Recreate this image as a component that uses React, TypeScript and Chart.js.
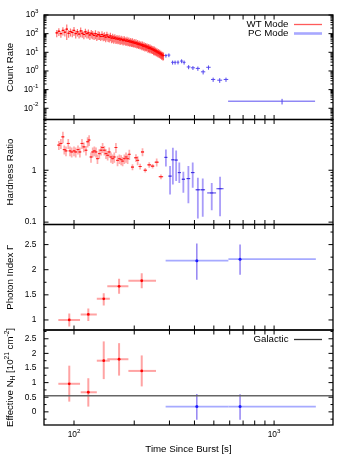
import React, { useEffect, useRef } from 'react';
import { Chart, registerables } from 'chart.js';
Chart.register(...registerables);

const FONT = '"Liberation Sans", Arial, Helvetica, sans-serif';
const TICK_FS = 8.4;
const SUP_FS = 6.2;
const TITLE_FS = 9.7;
const W = 350;
const H = 455;
const PLOT_LEFT = 44;
const PLOT_RIGHT = 333;

// ---------------- shared x axis ----------------
const timeMin = 70.8;
const timeMax = 1970;
const timeTicks = [100, 200, 300, 400, 500, 600, 700, 800, 900, 1000];
const timeLabelValues = [100, 1000];
const timeLabelExp = ['2', '3'];

// ---------------- panel 1: count rate ----------------
const wtTime = [82, 84, 86, 88, 90, 92, 94, 96, 98, 100, 102, 104, 106, 108, 110, 112, 114, 116, 118, 120, 122, 124, 126, 128, 130, 132, 134, 136, 138, 140, 142, 144, 146, 148, 150, 152, 154, 156, 158, 160, 162, 164, 166, 168, 170, 172, 174, 176, 178, 180, 182, 184, 186, 188, 190, 192, 194, 196, 198, 200, 202, 204, 206, 208, 210, 212, 214, 216, 218, 220, 222, 224, 226, 228, 230, 232, 234, 236, 238, 240, 242, 244, 246, 248, 250, 252, 254, 256, 258, 260, 262, 264, 266, 268, 270, 272, 274, 276, 278, 280];
const wtRate = [110, 135, 100, 150, 120, 175, 105, 130, 115, 150, 100, 125, 95, 140, 105, 90, 125, 100, 110, 85, 105, 95, 80, 100, 75, 90, 85, 70, 90, 72, 80, 65, 85, 68, 62, 75, 58, 66, 55, 64, 52, 58, 50, 56, 46, 52, 48, 42, 50, 44, 40, 46, 38, 42, 36, 40, 34, 38, 32, 35, 30, 34, 28, 31, 26, 29, 25, 27, 23, 26, 21, 24, 20, 22, 19, 21, 17, 19, 16, 18, 15, 16, 14, 15, 12.5, 14, 11.5, 12.5, 10.5, 11.5, 9.5, 10.5, 8.8, 9.5, 8, 8.5, 7.2, 7.5, 6.5, 6.8];
const wtRateErr = [45, 60, 40, 70, 50, 130, 45, 60, 50, 75, 45, 55, 40, 75, 45, 40, 60, 45, 55, 40, 50, 45, 35, 50, 35, 45, 40, 30, 45, 33, 38, 30, 42, 32, 28, 36, 27, 32, 26, 30, 24, 28, 23, 27, 21, 25, 22, 19, 24, 20, 18, 22, 17, 20, 16, 19, 15, 18, 14, 16, 13, 16, 12, 14, 11, 13, 11, 12, 10, 12, 9, 11, 9, 10, 8, 9, 7.5, 8.5, 7, 8, 6.5, 7, 6, 7, 5.5, 6.5, 5, 5.5, 4.5, 5, 4, 4.5, 3.8, 4.2, 3.5, 3.8, 3.2, 3.3, 2.9, 3];
const wtRateBinHalf = 1.0;

const pcTime = [288, 298, 311, 320, 331, 345, 355, 374, 393, 416, 442, 470, 496, 535, 575, 1096];
const pcTimeLo = [284, 293, 306, 315, 326, 339, 349, 366, 384, 406, 431, 458, 484, 520, 560, 589];
const pcTimeHi = [292, 303, 316, 325, 336, 351, 361, 382, 402, 426, 453, 482, 508, 550, 590, 1603];
const pcRate = [6.7, 7.1, 2.9, 2.9, 2.95, 3.4, 2.9, 1.64, 1.48, 1.37, 0.9, 1.57, 0.35, 0.32, 0.35, 0.024];
const pcRateErr = [1.5, 1.6, 0.7, 0.7, 0.7, 0.8, 0.7, 0.4, 0.35, 0.35, 0.25, 0.4, 0.09, 0.09, 0.09, 0.008];

const rateMin = 0.0025;
const rateMax = 1000;
const rateTickValues = [0.01, 0.1, 1, 10, 100, 1000];
const rateTickExp = ['-2', '-1', '0', '1', '2', '3'];

// ---------------- panel 2: hardness ratio ----------------
const wtHrTime = [84, 86, 88, 89.4, 91.2, 93.6, 95.5, 97.4, 100, 102, 104.7, 107, 109.6, 112, 114.8, 117, 119, 121.6, 124, 126.4, 128.8, 131, 133.8, 136.5, 139, 141.8, 144.5, 147.3, 150, 153, 156, 159, 162, 165, 168.6, 172, 175, 178.5, 182, 185.4, 189, 196, 204, 208, 214, 220, 227, 237.7, 247, 259, 272];
const wtHr = [3.05, 3.28, 4.4, 2.5, 2.36, 3.28, 2.36, 2.25, 2.36, 2.25, 2.5, 2.25, 3.28, 2.82, 2.43, 3.54, 3.82, 1.8, 2.25, 2.36, 2.25, 1.67, 2.09, 2.43, 2.74, 2.43, 2.09, 1.94, 2.25, 1.8, 1.67, 1.8, 2.74, 1.55, 1.67, 1.6, 1.5, 1.67, 1.8, 1.67, 2.03, 1.15, 1.74, 1.55, 1.18, 2.25, 1.0, 1.27, 1.2, 1.43, 0.75];
const wtHrErr = [0.6, 0.7, 1.1, 0.5, 0.5, 0.7, 0.5, 0.5, 0.5, 0.5, 0.5, 0.5, 0.7, 0.6, 0.5, 0.8, 0.9, 0.4, 0.5, 0.5, 0.5, 0.35, 0.45, 0.5, 0.6, 0.5, 0.45, 0.4, 0.5, 0.4, 0.35, 0.4, 0.6, 0.35, 0.35, 0.35, 0.3, 0.35, 0.4, 0.35, 0.45, 0.15, 0.3, 0.3, 0.15, 0.4, 0.1, 0.15, 0.12, 0.25, 0.08];
const wtHrTimeHalf = [1.2, 1.2, 1.2, 1.2, 1.2, 1.2, 1.2, 1.2, 1.2, 1.2, 1.2, 1.2, 1.2, 1.2, 1.2, 1.2, 1.2, 1.2, 1.2, 1.2, 1.2, 1.2, 1.2, 1.2, 1.2, 1.2, 1.2, 1.2, 1.2, 1.2, 1.2, 1.2, 1.2, 1.2, 1.2, 1.2, 1.2, 1.2, 1.2, 1.2, 1.2, 3, 4, 3, 3, 4, 4, 5, 5, 6, 7];

const pcHrTime = [288, 302, 312, 324, 336, 352, 373, 392, 416, 440, 488, 537];
const pcHrTimeHalf = [4, 5, 5, 5, 5, 6, 8, 8, 11, 12, 25, 22];
const pcHr = [1.77, 0.77, 1.59, 1.57, 0.9, 0.67, 0.69, 0.9, 0.42, 0.42, 0.365, 0.44];
const pcHrLo = [1.18, 0.34, 0.53, 0.62, 0.57, 0.37, 0.23, 0.46, 0.118, 0.127, 0.17, 0.13];
const pcHrHi = [2.5, 1.21, 2.7, 2.39, 1.41, 0.94, 1.21, 1.41, 0.72, 0.69, 0.57, 0.75];

const hrMin = 0.09;
const hrMax = 9.5;
const hrTickValues = [0.1, 1];
const hrTickLabels = ['0.1', '1'];

// ---------------- panels 3 & 4: spectral fits ----------------
const specWtTime = [94.7, 117.9, 140.8, 168, 218];
const specWtTimeLo = [83.5, 108, 130, 146.7, 187];
const specWtTimeHi = [107.2, 130, 151, 187, 257];
const specPcTime = [411, 676];
const specPcTimeLo = [287, 591];
const specPcTimeHi = [591, 1617];

const gammaWt = [1.0, 1.11, 1.42, 1.67, 1.78];
const gammaWtLo = [0.87, 0.98, 1.29, 1.52, 1.63];
const gammaWtHi = [1.13, 1.23, 1.53, 1.82, 1.93];
const gammaPc = [2.18, 2.21];
const gammaPcLo = [1.8, 1.9];
const gammaPcHi = [2.52, 2.5];
const gammaMin = 0.8;
const gammaMax = 2.9;
const gammaTickValues = [1, 1.5, 2, 2.5];
const gammaTickLabels = ['1', '1.5', '2', '2.5'];
const gammaMinorTicks = [1.25, 1.75, 2.25, 2.75];

const nhWt = [0.96, 0.67, 1.75, 1.8, 1.4];
const nhWtLo = [0.35, 0.18, 1.12, 1.24, 0.87];
const nhWtHi = [1.58, 1.15, 2.41, 2.35, 1.93];
const nhPc = [0.18, 0.18];
const nhPcLo = [-0.27, -0.27];
const nhPcHi = [0.61, 0.6];
const galacticNH = 0.55;
const nhMin = -0.45;
const nhMax = 2.8;
const nhTickValues = [0, 0.5, 1, 1.5, 2, 2.5];
const nhTickLabels = ['0', '0.5', '1', '1.5', '2', '2.5'];
const nhMinorTicks = [-0.25, 0.25, 0.75, 1.25, 1.75, 2.25, 2.75];

// ---------------- layout ----------------
const panelGeom = [
  { top: 15, bottom: 119.5 },
  { top: 119.5, bottom: 224.5 },
  { top: 224.5, bottom: 330 },
  { top: 330, bottom: 425 },
];

function logMinor(min: number, max: number) {
  const out: number[] = [];
  for (let k = Math.floor(Math.log10(min)); k <= Math.ceil(Math.log10(max)); k++) {
    for (let m = 2; m <= 9; m++) {
      const v = m * Math.pow(10, k);
      if (v > min && v < max) out.push(v);
    }
  }
  return out;
}

// error bar plugin
const errorBarPlugin = {
  id: 'errbars',
  beforeDatasetsDraw(chart: any) {
    const { ctx, chartArea: a, scales } = chart;
    const x = scales.x;
    const y = scales.y;
    ctx.save();
    ctx.beginPath();
    ctx.rect(a.left, a.top, a.right - a.left, a.bottom - a.top);
    ctx.clip();
    chart.data.datasets.forEach((ds: any) => {
      const eb = ds.errorBars;
      if (!eb) return;
      ds.data.forEach((p: any, i: number) => {
        const px = x.getPixelForValue(p.x);
        const py = y.getPixelForValue(p.y);
        if (eb.xLo) {
          ctx.strokeStyle = eb.xColor;
          ctx.lineWidth = eb.xWidth;
          ctx.beginPath();
          ctx.moveTo(x.getPixelForValue(eb.xLo[i]), py);
          ctx.lineTo(x.getPixelForValue(eb.xHi[i]), py);
          ctx.stroke();
        }
        if (eb.yLo) {
          ctx.strokeStyle = eb.yColor;
          ctx.lineWidth = eb.yWidth;
          ctx.beginPath();
          ctx.moveTo(px, y.getPixelForValue(eb.yLo[i]));
          ctx.lineTo(px, y.getPixelForValue(eb.yHi[i]));
          ctx.stroke();
        }
      });
    });
    ctx.restore();
  },
};

type YLabel = { value: number; text?: string; exp?: string };
type LegendItem = { label: string; color: string; width: number };
type AxesSpec = {
  key: string;
  yMajor: number[];
  yMinor: number[];
  yLabels: YLabel[];
  xLabels: boolean;
  legend?: LegendItem[];
  legendY?: number;
  nhTitle?: boolean;
};

function drawPow(ctx: CanvasRenderingContext2D, x: number, y: number, base: string, exp: string, align: 'right' | 'center') {
  ctx.font = `${TICK_FS}px ${FONT}`;
  const wb = ctx.measureText(base).width;
  ctx.font = `${SUP_FS}px ${FONT}`;
  const we = ctx.measureText(exp).width;
  const total = wb + we;
  const x0 = align === 'right' ? x - total : x - total / 2;
  ctx.textAlign = 'left';
  ctx.textBaseline = 'middle';
  ctx.font = `${TICK_FS}px ${FONT}`;
  ctx.fillText(base, x0, y);
  ctx.font = `${SUP_FS}px ${FONT}`;
  ctx.fillText(exp, x0 + wb, y - 3.5);
}

function makeAxesPlugin(spec: AxesSpec) {
  return {
    id: 'axes' + spec.key,
    afterDraw(chart: any) {
      const { ctx, chartArea: a, scales } = chart;
      const x = scales.x;
      const y = scales.y;
      ctx.save();
      ctx.strokeStyle = '#000';
      ctx.lineWidth = 1;
      ctx.beginPath();
      for (const v of timeTicks) {
        const px = x.getPixelForValue(v);
        ctx.moveTo(px, a.top);
        ctx.lineTo(px, a.top + 4.5);
        ctx.moveTo(px, a.bottom);
        ctx.lineTo(px, a.bottom - 4.5);
      }
      for (const v of spec.yMajor) {
        const py = y.getPixelForValue(v);
        ctx.moveTo(a.left, py);
        ctx.lineTo(a.left + 4.5, py);
        ctx.moveTo(a.right, py);
        ctx.lineTo(a.right - 4.5, py);
      }
      for (const v of spec.yMinor) {
        const py = y.getPixelForValue(v);
        ctx.moveTo(a.left, py);
        ctx.lineTo(a.left + 2.5, py);
        ctx.moveTo(a.right, py);
        ctx.lineTo(a.right - 2.5, py);
      }
      ctx.stroke();
      ctx.lineWidth = 1.3;
      ctx.strokeRect(a.left, a.top, a.right - a.left, a.bottom - a.top);

      ctx.fillStyle = '#000';
      for (const l of spec.yLabels) {
        const py = y.getPixelForValue(l.value);
        if (l.exp !== undefined) {
          drawPow(ctx, 38.5, py, '10', l.exp, 'right');
        } else {
          ctx.font = `${TICK_FS}px ${FONT}`;
          ctx.textAlign = 'right';
          ctx.textBaseline = 'middle';
          ctx.fillText(l.text || '', 36.5, py);
        }
      }
      if (spec.xLabels) {
        timeLabelValues.forEach((v, i) => {
          drawPow(ctx, x.getPixelForValue(v), 435, '10', timeLabelExp[i], 'center');
        });
      }
      if (spec.legend) {
        spec.legend.forEach((item, i) => {
          const ly = (spec.legendY || 0) + i * 9;
          ctx.font = `${TITLE_FS}px ${FONT}`;
          ctx.textAlign = 'right';
          ctx.textBaseline = 'middle';
          ctx.fillStyle = '#000';
          ctx.fillText(item.label, 288.5, ly);
          ctx.strokeStyle = item.color;
          ctx.lineWidth = item.width;
          ctx.beginPath();
          ctx.moveTo(294, ly);
          ctx.lineTo(322, ly);
          ctx.stroke();
        });
      }
      if (spec.nhTitle) {
        const pieces = [
          { t: 'Effective N', s: TITLE_FS, dy: 0 },
          { t: 'H', s: 6.6, dy: 2.6 },
          { t: ' [10', s: TITLE_FS, dy: 0 },
          { t: '21', s: 6.6, dy: -3.2 },
          { t: ' cm', s: TITLE_FS, dy: 0 },
          { t: '-2', s: 6.6, dy: -3.2 },
          { t: ']', s: TITLE_FS, dy: 0 },
        ];
        let total = 0;
        const widths = pieces.map((p) => {
          ctx.font = `${p.s}px ${FONT}`;
          const w = ctx.measureText(p.t).width;
          total += w;
          return w;
        });
        ctx.save();
        ctx.translate(10.7, (a.top + a.bottom) / 2);
        ctx.rotate(-Math.PI / 2);
        ctx.textAlign = 'left';
        ctx.textBaseline = 'middle';
        ctx.fillStyle = '#000';
        let cx = -total / 2;
        pieces.forEach((p, i) => {
          ctx.font = `${p.s}px ${FONT}`;
          ctx.fillText(p.t, cx, p.dy);
          cx += widths[i];
        });
        ctx.restore();
      }
      ctx.restore();
    },
  };
}

function makeOptions(idx: number, yScale: any, yTitle: string | null, isBottom: boolean) {
  const g = panelGeom[idx];
  return {
    responsive: false,
    animation: false,
    devicePixelRatio: 1,
    events: [],
    layout: {
      autoPadding: false,
      padding: { left: 0, right: W - PLOT_RIGHT, top: g.top, bottom: isBottom ? 0 : H - g.bottom },
    },
    plugins: { legend: { display: false }, tooltip: { enabled: false } },
    scales: {
      x: {
        type: 'logarithmic',
        min: timeMin,
        max: timeMax,
        bounds: 'data',
        position: 'bottom',
        display: isBottom,
        grid: { display: false },
        border: { display: false },
        ticks: { display: false },
        title: {
          display: isBottom,
          text: 'Time Since Burst [s]',
          color: '#000',
          font: { family: FONT, size: TITLE_FS },
          padding: { top: 0, bottom: 0 },
        },
        afterFit: (s: any) => {
          s.height = isBottom ? H - g.bottom : 0;
        },
      },
      y: {
        ...yScale,
        bounds: 'data',
        position: 'left',
        display: true,
        grid: { display: false },
        border: { display: false },
        ticks: { display: false },
        title: {
          display: !!yTitle,
          text: yTitle || '',
          color: '#000',
          font: { family: FONT, size: TITLE_FS },
          padding: { top: 5, bottom: 0 },
        },
        afterFit: (s: any) => {
          s.width = PLOT_LEFT;
        },
      },
    },
  };
}

const pts = (xs: number[], ys: number[]) => xs.map((x, i) => ({ x, y: ys[i] }));

function buildConfigs() {
  const c1 = {
    type: 'scatter',
    data: {
      datasets: [
        {
          label: 'WT Mode',
          data: pts(wtTime, wtRate),
          pointStyle: 'line',
          pointRadius: 1.2,
          borderColor: '#ff0000',
          borderWidth: 1,
          errorBars: {
            yLo: wtRate.map((r, i) => r - wtRateErr[i]),
            yHi: wtRate.map((r, i) => r + wtRateErr[i]),
            yColor: 'rgba(255,0,0,0.55)',
            yWidth: 1.2,
            xLo: wtTime.map((t) => t - wtRateBinHalf),
            xHi: wtTime.map((t) => t + wtRateBinHalf),
            xColor: '#ff0000',
            xWidth: 1,
          },
        },
        {
          label: 'PC Mode',
          data: pts(pcTime, pcRate),
          pointRadius: 0,
          borderColor: '#4a3cf0',
          errorBars: {
            yLo: pcRate.map((r, i) => r - pcRateErr[i]),
            yHi: pcRate.map((r, i) => r + pcRateErr[i]),
            yColor: '#5346ee',
            yWidth: 1,
            xLo: pcTimeLo,
            xHi: pcTimeHi,
            xColor: '#5a4ef0',
            xWidth: 1,
          },
        },
      ],
    },
    options: makeOptions(0, { type: 'logarithmic', min: rateMin, max: rateMax }, 'Count Rate', false),
    plugins: [
      errorBarPlugin,
      makeAxesPlugin({
        key: '1',
        yMajor: rateTickValues,
        yMinor: logMinor(rateMin, rateMax),
        yLabels: rateTickValues.map((v, i) => ({ value: v, exp: rateTickExp[i] })),
        xLabels: false,
        legend: [
          { label: 'WT Mode', color: '#ff5a5a', width: 1.3 },
          { label: 'PC Mode', color: '#a8a8ff', width: 2.6 },
        ],
        legendY: 24.5,
      }),
    ],
  };

  const c2 = {
    type: 'scatter',
    data: {
      datasets: [
        {
          data: pts(wtHrTime, wtHr),
          pointStyle: 'line',
          pointRadius: 1.5,
          borderColor: '#ff2020',
          borderWidth: 1,
          errorBars: {
            yLo: wtHr.map((v, i) => v - wtHrErr[i]),
            yHi: wtHr.map((v, i) => v + wtHrErr[i]),
            yColor: 'rgba(255,70,70,0.45)',
            yWidth: 1.7,
            xLo: wtHrTime.map((t, i) => t - wtHrTimeHalf[i]),
            xHi: wtHrTime.map((t, i) => t + wtHrTimeHalf[i]),
            xColor: '#ff3030',
            xWidth: 1,
          },
        },
        {
          data: pts(pcHrTime, pcHr),
          pointStyle: 'line',
          pointRadius: 1.5,
          borderColor: '#3c2ee0',
          borderWidth: 1,
          errorBars: {
            yLo: pcHrLo,
            yHi: pcHrHi,
            yColor: 'rgba(110,90,245,0.6)',
            yWidth: 1.8,
            xLo: pcHrTime.map((t, i) => t - pcHrTimeHalf[i]),
            xHi: pcHrTime.map((t, i) => t + pcHrTimeHalf[i]),
            xColor: '#4a3ce8',
            xWidth: 1,
          },
        },
      ],
    },
    options: makeOptions(1, { type: 'logarithmic', min: hrMin, max: hrMax }, 'Hardness Ratio', false),
    plugins: [
      errorBarPlugin,
      makeAxesPlugin({
        key: '2',
        yMajor: hrTickValues,
        yMinor: logMinor(hrMin, hrMax),
        yLabels: hrTickValues.map((v, i) => ({ value: v, text: hrTickLabels[i] })),
        xLabels: false,
      }),
    ],
  };

  const specDatasets = (wt: number[], wtLo: number[], wtHi: number[], pc: number[], pcLo: number[], pcHi: number[]) => [
    {
      data: pts(specWtTime, wt),
      pointStyle: 'circle',
      pointRadius: 1.4,
      pointBackgroundColor: '#ff0000',
      borderColor: '#ff0000',
      borderWidth: 0,
      errorBars: {
        yLo: wtLo,
        yHi: wtHi,
        yColor: '#ffa3a3',
        yWidth: 2,
        xLo: specWtTimeLo,
        xHi: specWtTimeHi,
        xColor: '#ffa3a3',
        xWidth: 2,
      },
    },
    {
      data: pts(specPcTime, pc),
      pointStyle: 'circle',
      pointRadius: 1.5,
      pointBackgroundColor: '#1a1aff',
      borderColor: '#1a1aff',
      borderWidth: 0,
      errorBars: {
        yLo: pcLo,
        yHi: pcHi,
        yColor: '#8c7cf2',
        yWidth: 1.4,
        xLo: specPcTimeLo,
        xHi: specPcTimeHi,
        xColor: '#a6aaff',
        xWidth: 1.8,
      },
    },
  ];

  const c3 = {
    type: 'scatter',
    data: { datasets: specDatasets(gammaWt, gammaWtLo, gammaWtHi, gammaPc, gammaPcLo, gammaPcHi) },
    options: makeOptions(2, { type: 'linear', min: gammaMin, max: gammaMax }, 'Photon Index \u0393', false),
    plugins: [
      errorBarPlugin,
      makeAxesPlugin({
        key: '3',
        yMajor: gammaTickValues,
        yMinor: gammaMinorTicks,
        yLabels: gammaTickValues.map((v, i) => ({ value: v, text: gammaTickLabels[i] })),
        xLabels: false,
      }),
    ],
  };

  const c4 = {
    type: 'scatter',
    data: {
      datasets: [
        {
          label: 'Galactic',
          data: [
            { x: timeMin, y: galacticNH },
            { x: timeMax, y: galacticNH },
          ],
          showLine: true,
          pointRadius: 0,
          borderColor: '#666666',
          borderWidth: 1.6,
        },
        ...specDatasets(nhWt, nhWtLo, nhWtHi, nhPc, nhPcLo, nhPcHi),
      ],
    },
    options: makeOptions(3, { type: 'linear', min: nhMin, max: nhMax }, null, true),
    plugins: [
      errorBarPlugin,
      makeAxesPlugin({
        key: '4',
        yMajor: nhTickValues,
        yMinor: nhMinorTicks,
        yLabels: nhTickValues.map((v, i) => ({ value: v, text: nhTickLabels[i] })),
        xLabels: true,
        legend: [{ label: 'Galactic', color: '#333333', width: 1.3 }],
        legendY: 339.5,
        nhTitle: true,
      }),
    ],
  };
  return [c1, c2, c3, c4];
}

export default function App() {
  const r1 = useRef<HTMLCanvasElement>(null);
  const r2 = useRef<HTMLCanvasElement>(null);
  const r3 = useRef<HTMLCanvasElement>(null);
  const r4 = useRef<HTMLCanvasElement>(null);
  const refs = [r1, r2, r3, r4];

  useEffect(() => {
    const cfgs = buildConfigs();
    const charts = refs.map((r, i) => new Chart(r.current as HTMLCanvasElement, cfgs[i] as any));
    return () => charts.forEach((c) => c.destroy());
  }, []);

  return (
    <div style={{ position: 'absolute', left: 0, top: 0, width: W, height: H, background: '#ffffff', overflow: 'hidden' }}>
      {refs.map((r, i) => (
        <canvas
          key={i}
          ref={r}
          width={W}
          height={H}
          style={{ position: 'absolute', left: 0, top: 0, width: W, height: H }}
        />
      ))}
    </div>
  );
}
